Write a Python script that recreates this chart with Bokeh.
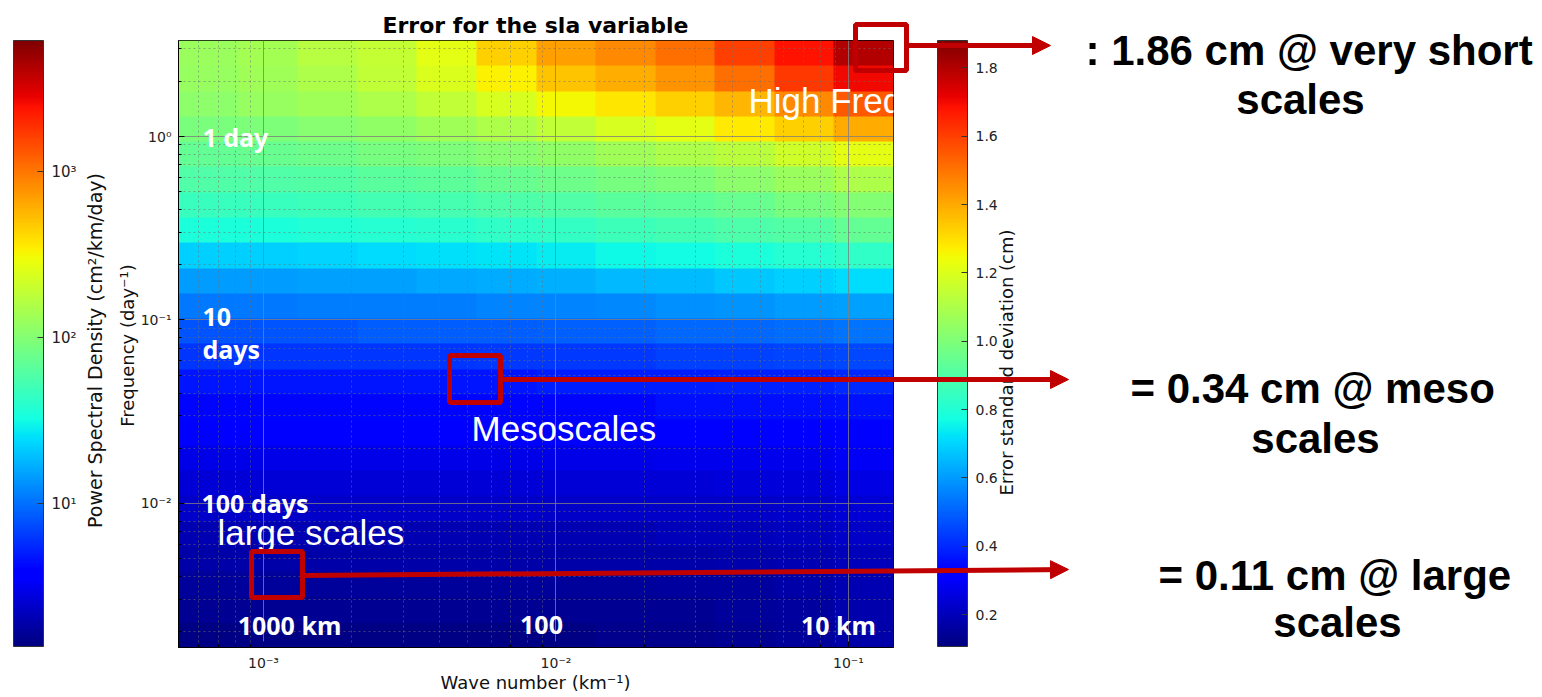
import numpy as np
from bokeh.plotting import figure
from bokeh.models import (LinearColorMapper, LogColorMapper, ColorBar, FixedTicker,
                          CustomJSTickFormatter, PrintfTickFormatter, Label, Arrow,
                          NormalHead, BoxAnnotation, GridBox, Range1d)
from bokeh.core.properties import value
from bokeh.embed import file_html
from bokeh.resources import INLINE

# ---------------- data ----------------
wavenumber_extent = [5.12e-4, 0.1426]      # km^-1
frequency_extent = [1.641e-3, 3.336]       # day^-1

# error standard deviation (cm), rows from highest frequency (top) to lowest (bottom),
# columns from smallest to largest wave number (log-spaced cells)
err_rows = [
    [1.06, 1.08, 1.12, 1.15, 1.22, 1.33, 1.42, 1.46, 1.51, 1.60, 1.68, 1.80],
    [1.05, 1.07, 1.10, 1.14, 1.20, 1.27, 1.35, 1.39, 1.44, 1.51, 1.61, 1.70],
    [1.03, 1.05, 1.07, 1.10, 1.14, 1.19, 1.25, 1.29, 1.33, 1.38, 1.46, 1.55],
    [0.99, 1.00, 1.02, 1.04, 1.07, 1.10, 1.14, 1.19, 1.22, 1.28, 1.33, 1.40],
    [0.94, 0.95, 0.96, 0.98, 1.00, 1.02, 1.04, 1.07, 1.10, 1.13, 1.17, 1.22],
    [0.90, 0.90, 0.91, 0.92, 0.93, 0.95, 0.96, 0.98, 1.00, 1.03, 1.06, 1.10],
    [0.85, 0.85, 0.86, 0.87, 0.88, 0.89, 0.90, 0.92, 0.93, 0.95, 0.98, 1.01],
    [0.79, 0.79, 0.80, 0.81, 0.82, 0.83, 0.84, 0.86, 0.87, 0.89, 0.91, 0.94],
    [0.69, 0.69, 0.70, 0.71, 0.72, 0.73, 0.74, 0.76, 0.77, 0.79, 0.81, 0.83],
    [0.60, 0.60, 0.61, 0.61, 0.62, 0.63, 0.64, 0.65, 0.66, 0.68, 0.69, 0.71],
    [0.54, 0.54, 0.55, 0.55, 0.55, 0.56, 0.56, 0.57, 0.58, 0.59, 0.60, 0.61],
    [0.48, 0.48, 0.48, 0.49, 0.49, 0.49, 0.50, 0.50, 0.51, 0.51, 0.52, 0.53],
    [0.42, 0.42, 0.42, 0.42, 0.42, 0.43, 0.43, 0.43, 0.44, 0.44, 0.45, 0.46],
    [0.37, 0.37, 0.37, 0.37, 0.37, 0.37, 0.38, 0.38, 0.38, 0.39, 0.39, 0.40],
    [0.34, 0.34, 0.34, 0.34, 0.34, 0.34, 0.34, 0.34, 0.35, 0.35, 0.35, 0.36],
    [0.31, 0.31, 0.31, 0.31, 0.31, 0.31, 0.31, 0.31, 0.31, 0.32, 0.32, 0.33],
    [0.27, 0.27, 0.27, 0.27, 0.27, 0.27, 0.27, 0.27, 0.28, 0.28, 0.28, 0.29],
    [0.24, 0.24, 0.24, 0.24, 0.24, 0.24, 0.24, 0.24, 0.24, 0.25, 0.25, 0.26],
    [0.22, 0.22, 0.22, 0.22, 0.22, 0.22, 0.22, 0.22, 0.22, 0.22, 0.23, 0.24],
    [0.19, 0.19, 0.19, 0.19, 0.19, 0.19, 0.19, 0.19, 0.20, 0.20, 0.21, 0.22],
    [0.17, 0.17, 0.17, 0.17, 0.17, 0.17, 0.17, 0.17, 0.17, 0.18, 0.19, 0.20],
    [0.15, 0.15, 0.15, 0.15, 0.15, 0.15, 0.15, 0.15, 0.16, 0.16, 0.17, 0.19],
    [0.14, 0.14, 0.14, 0.14, 0.14, 0.14, 0.14, 0.14, 0.14, 0.15, 0.16, 0.18],
    [0.12, 0.12, 0.12, 0.12, 0.12, 0.12, 0.12, 0.13, 0.13, 0.14, 0.15, 0.17],
]

err_range = [0.107, 1.88]          # error colour bar limits (cm)
psd_range = [1.38, 6200.0]         # PSD colour bar limits (cm^2/km/day)
err_ticks = [0.2, 0.4, 0.6, 0.8, 1.0, 1.2, 1.4, 1.6, 1.8]
psd_ticks = [10, 100, 1000]
x_ticks = [1e-3, 1e-2, 1e-1]
y_ticks = [1e-2, 1e-1, 1.0]

period_labels = ["1 day", "10", "days", "100 days"]
scale_labels = ["1000 km", "100", "km", "10 km"]
region_labels = ["High Frequencies", "Mesoscales", "large scales"]
callouts = [": 1.86 cm @ very short", "= 0.34 cm @ meso", "= 0.11 cm @ large"]

# ---------------- styling helpers ----------------
def jet(n=256):
    t = np.linspace(0, 1, n)
    r = np.interp(t, [0, 0.35, 0.66, 0.89, 1], [0, 0, 1, 1, 0.5])
    g = np.interp(t, [0, 0.125, 0.375, 0.64, 0.91, 1], [0, 0, 1, 1, 0, 0])
    b = np.interp(t, [0, 0.11, 0.34, 0.65, 1], [0.5, 1, 1, 0, 0])
    return ["#%02x%02x%02x" % (int(round(255 * a)), int(round(255 * c)), int(round(255 * d)))
            for a, c, d in zip(r, g, b)]

JET = jet()
RED = "#c00000"
W, H = 1540, 695

K0, K1 = wavenumber_extent
F0, F1 = frequency_extent

FL, FT, FW, FH = 178, 40, 715, 607


def at(px, py):
    """page pixel -> data coordinates (annotation placement inside the frame)"""
    lx = np.log10(K0) + (px - FL) / FW * (np.log10(K1) - np.log10(K0))
    ly = np.log10(F1) - (py - FT) / FH * (np.log10(F1) - np.log10(F0))
    return 10 ** lx, 10 ** ly


p = figure(width=W, height=H, x_axis_type="log", y_axis_type="log",
           x_range=(K0, K1), y_range=(F0, F1),
           output_backend="svg", toolbar_location=None,
           min_border_left=FL, min_border_top=FT,
           min_border_right=W - FL - FW, min_border_bottom=H - FT - FH)
p.frame_align = False
p.outline_line_color = "black"
p.outline_line_width = 1
p.background_fill_color = "white"
p.border_fill_color = "white"

err_mapper = LinearColorMapper(palette=JET, low=err_range[0], high=err_range[1])
psd_mapper = LogColorMapper(palette=JET, low=psd_range[0], high=psd_range[1])

grid = np.flipud(np.array(err_rows, dtype=float))
img = p.image(image=[grid], x=K0, y=F0, dw=K1 - K0, dh=F1 - F0, color_mapper=err_mapper)
img.level = "image"

sup = CustomJSTickFormatter(code="""
const s = {'-':'\u207b','0':'\u2070','1':'\u00b9','2':'\u00b2','3':'\u00b3','4':'\u2074',
           '5':'\u2075','6':'\u2076','7':'\u2077','8':'\u2078','9':'\u2079'};
const e = Math.round(Math.log10(tick));
return '10' + String(e).split('').map(c => s[c]).join('');
""")

x_minor = [m * d for d in (1e-4, 1e-3, 1e-2) for m in range(2, 10)]
y_minor = [m * d for d in (1e-3, 1e-2, 1e-1, 1.0) for m in range(2, 10)]
p.xaxis.ticker = FixedTicker(ticks=x_ticks, minor_ticks=x_minor)
p.yaxis.ticker = FixedTicker(ticks=y_ticks, minor_ticks=y_minor)
for ax in (p.xaxis[0], p.yaxis[0]):
    ax.formatter = sup
    ax.major_tick_in = 6
    ax.major_tick_out = 0
    ax.minor_tick_in = 3
    ax.minor_tick_out = 0
    ax.axis_line_color = "black"
    ax.major_label_text_font = "DejaVu Sans"
    ax.major_label_text_font_size = "14px"
    ax.major_label_text_color = "#222222"
    ax.major_label_standoff = 7

for g in (p.xgrid[0], p.ygrid[0]):
    g.grid_line_color = "#808080"
    g.grid_line_alpha = 0.8
    g.grid_line_width = 1
    g.minor_grid_line_color = "#707070"
    g.minor_grid_line_alpha = 0.55
    g.minor_grid_line_dash = "2 3"

cb_common = dict(width=30, height=606, padding=0, margin=0, orientation="vertical",
                 background_fill_alpha=0, border_line_color=None,
                 bar_line_color="#333333", major_tick_line_color="#333333",
                 major_tick_in=6, major_tick_out=0, label_standoff=8,
                 major_label_text_font="DejaVu Sans", major_label_text_color="#222222")
cb_psd = ColorBar(color_mapper=psd_mapper, ticker=FixedTicker(ticks=psd_ticks), formatter=sup,
                  location=(13 - FL, 1), major_label_text_font_size="15px", **cb_common)
cb_err = ColorBar(color_mapper=err_mapper, ticker=FixedTicker(ticks=err_ticks),
                  formatter=PrintfTickFormatter(format="%.1f"),
                  location=(937 - FL, 1), major_label_text_font_size="14px", **cb_common)
p.add_layout(cb_psd, "center")
p.add_layout(cb_err, "center")

# ---- in-plot white texts (glyphs, clipped to the frame) ----
def ptext(txt, px, py, size, bold, align="left", font="Noto Sans"):
    x, y = at(px, py)
    p.text(x=[x], y=[y], text=[txt], text_color="white", text_font=value(font),
           text_font_size=size, text_font_style="bold" if bold else "normal",
           text_align=align, text_baseline="middle")

ptext(period_labels[0], 202, 136, "25px", True)
ptext(period_labels[1], 202, 316, "25px", True)
ptext(period_labels[2], 202, 348, "25px", True)
ptext(period_labels[3], 201, 502, "25px", True)
ptext(scale_labels[0], 289, 624, "25px", True, "center")
ptext(scale_labels[1], 541, 624, "25px", True, "center")
ptext(scale_labels[2], 541, 655, "25px", True, "center")
ptext(scale_labels[3], 838, 624, "25px", True, "center")
ptext(region_labels[0], 748, 100, "35px", False, font="Liberation Sans")
ptext(region_labels[1], 471, 428, "35px", False, font="Liberation Sans")
ptext(region_labels[2], 217, 532, "35px", False, font="Liberation Sans")

# ---------------- overlay layer (page pixels, y downwards) ----------------
ov = figure(width=W, height=H, x_range=Range1d(0, W), y_range=Range1d(H, 0),
            x_axis_location=None, y_axis_location=None,
            output_backend="svg", toolbar_location=None,
            min_border_left=0, min_border_right=0, min_border_top=0, min_border_bottom=0)
ov.frame_align = False
ov.grid.visible = False
ov.outline_line_color = None
ov.background_fill_alpha = 0
ov.border_fill_alpha = 0


def box(x0, y0, x1, y1):
    ov.add_layout(BoxAnnotation(left=x0, right=x1, top=y0, bottom=y1, fill_color=None,
                                fill_alpha=0, line_color=RED, line_width=5, line_alpha=1))


def arrow(x0, y0, x1, y1):
    ov.add_layout(Arrow(x_start=x0, y_start=y0, x_end=x1, y_end=y1, line_color=RED, line_width=5,
                        end=NormalHead(size=18, fill_color=RED, line_color=RED, line_width=1)))


def label(txt, px, py, size, font="DejaVu Sans", bold=False, align="center", angle=0.0,
          color="#111111"):
    ov.add_layout(Label(x=px, y=py, text=txt, text_font=font, text_font_size=size,
                        text_font_style="bold" if bold else "normal", text_align=align,
                        text_baseline="middle", angle=angle, text_color=color))


label("Error for the sla variable", 535, 25, "22px", bold=True, color="black")
label("Wave number (km\u207b\u00b9)", 535, 682, "18px")
label("Frequency (day\u207b\u00b9)", 127, 345, "18px", angle=np.pi / 2)
label("Power Spectral Density (cm\u00b2/km/day)", 94, 350, "19px", angle=np.pi / 2)
label("Error standard deviation (cm)", 1006, 362, "18px", angle=np.pi / 2)

box(855, 24, 906, 70)
box(449, 355, 500, 402)
box(251, 551, 302, 597)
arrow(906, 45, 1050, 45)
arrow(500, 379, 1068, 379)
arrow(302, 575, 1068, 569)

label(callouts[0], 1085, 50, "42px", font="Liberation Sans", bold=True, align="left", color="black")
label("scales", 1300, 99, "42px", font="Liberation Sans", bold=True, color="black")
label(callouts[1], 1130, 388, "42px", font="Liberation Sans", bold=True, align="left", color="black")
label("scales", 1315, 438, "42px", font="Liberation Sans", bold=True, color="black")
label(callouts[2], 1158, 575, "42px", font="Liberation Sans", bold=True, align="left", color="black")
label("scales", 1337, 622, "42px", font="Liberation Sans", bold=True, color="black")

layout = GridBox(children=[(p, 0, 0), (ov, 0, 0)])

open("out.html", "w").write(file_html(layout, INLINE))
